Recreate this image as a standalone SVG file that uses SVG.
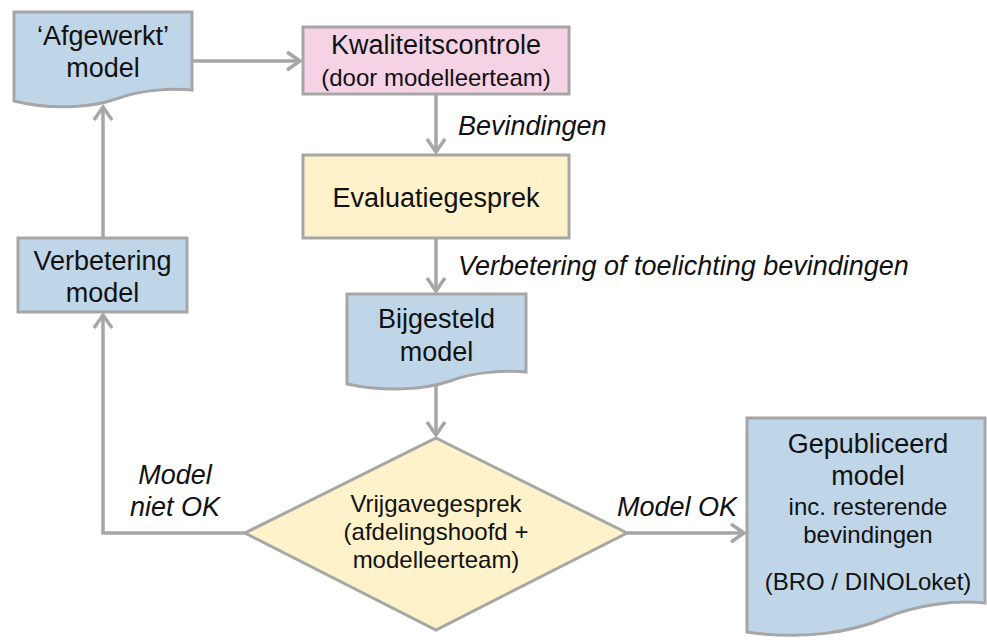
<svg xmlns="http://www.w3.org/2000/svg" width="987" height="644" viewBox="0 0 987 644">
<defs>
<style>
.shape{stroke:#a6a6a6;stroke-width:3;stroke-linejoin:miter}
.blue{fill:#bfd6e8}
.pink{fill:#f5d3e4}
.yellow{fill:#fdf2c9}
.t{font-family:"Liberation Sans",Arial,sans-serif;fill:#111;text-anchor:middle}
.big{font-size:27px}
.small{font-size:24px}
.lbl{font-family:"Liberation Sans",Arial,sans-serif;font-style:italic;font-size:27px;fill:#111}
.conn{fill:none;stroke:#a6a6a6;stroke-width:3.5}
</style>
<marker id="arr" markerUnits="userSpaceOnUse" markerWidth="20" markerHeight="24" viewBox="-16 -12 20 24" refX="0" refY="0" orient="auto">
<path d="M-13,-9 L0,0 L-13,9" fill="none" stroke="#a6a6a6" stroke-width="3.5"/>
</marker>
</defs>
<rect width="987" height="644" fill="#fff"/>
<g id="connectors">
<path class="conn" d="M192,61 H300" marker-end="url(#arr)"/>
<path class="conn" d="M436,94 V152" marker-end="url(#arr)"/>
<path class="conn" d="M436,238 V291" marker-end="url(#arr)"/>
<path class="conn" d="M436,384 V435" marker-end="url(#arr)"/>
<path class="conn" d="M245,533 H103 V315" marker-end="url(#arr)"/>
<path class="conn" d="M103,238 V107" marker-end="url(#arr)"/>
<path class="conn" d="M627,533 H744" marker-end="url(#arr)"/>
<text class="lbl" x="458" y="135">Bevindingen</text>
<text class="lbl" x="458" y="275">Verbetering of toelichting bevindingen</text>
<text class="lbl" x="175" y="484" text-anchor="middle">Model</text>
<text class="lbl" x="175" y="516" text-anchor="middle">niet OK</text>
<text class="lbl" x="617" y="516">Model OK</text>
</g>
<g id="afgewerkt">
<path class="shape blue" d="M14,12 H192 V90 C170,88 140,90 116,99 C90,108 50,110 14,101 Z"/>
<text class="t big" x="103" y="45">‘Afgewerkt’</text>
<text class="t big" x="103" y="77">model</text>
</g>
<g id="kwaliteitscontrole">
<rect class="shape pink" x="303" y="27" width="266" height="67"/>
<text class="t big" x="436" y="54">Kwaliteitscontrole</text>
<text class="t small" x="436" y="86">(door modelleerteam)</text>
</g>
<g id="evaluatiegesprek">
<rect class="shape yellow" x="303" y="155" width="266" height="83"/>
<text class="t big" x="436" y="207">Evaluatiegesprek</text>
</g>
<g id="bijgesteld">
<path class="shape blue" d="M347,294 H526 V372 C504,370 474,372 450,381 C424,390 384,392 347,384 Z"/>
<text class="t big" x="436.5" y="328">Bijgesteld</text>
<text class="t big" x="436.5" y="361">model</text>
</g>
<g id="verbetering">
<rect class="shape blue" x="18" y="238" width="169" height="74"/>
<text class="t big" x="102.5" y="270">Verbetering</text>
<text class="t big" x="102.5" y="302">model</text>
</g>
<g id="vrijgavegesprek">
<polygon class="shape yellow" points="436,438 627,533 436,630 245,533"/>
<text class="t small" x="436" y="512">Vrijgavegesprek</text>
<text class="t small" x="436" y="540">(afdelingshoofd +</text>
<text class="t small" x="436" y="568">modelleerteam)</text>
</g>
<g id="gepubliceerd">
<path class="shape blue" d="M747,418 H985 V603 C955,600 915,605 885,618 C850,633 800,640 747,632 Z"/>
<text class="t big" x="868" y="453">Gepubliceerd</text>
<text class="t big" x="868" y="485">model</text>
<text class="t small" x="868" y="515">inc. resterende</text>
<text class="t small" x="868" y="543">bevindingen</text>
<text class="t small" x="868" y="590">(BRO / DINOLoket)</text>
</g>
</svg>
